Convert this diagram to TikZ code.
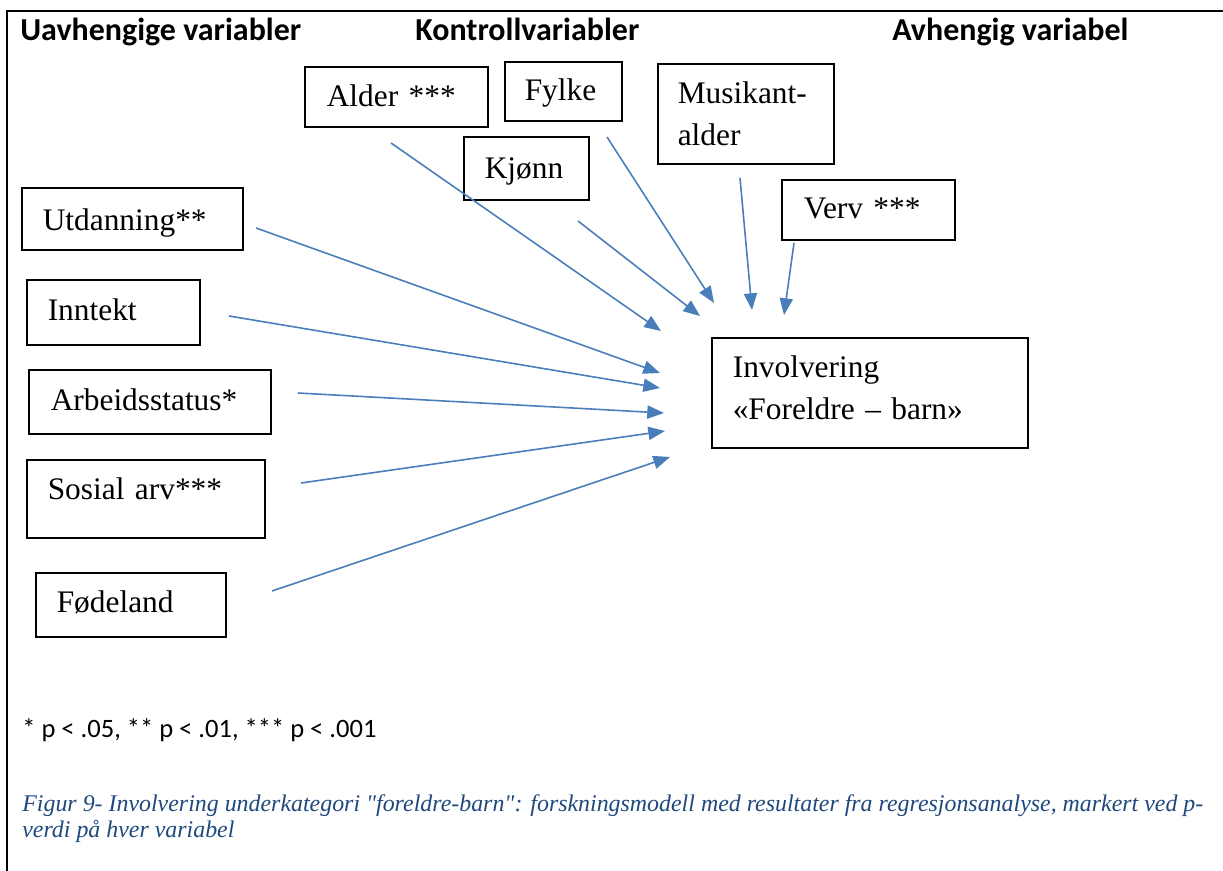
\documentclass[tikz,border=0pt]{standalone}
\usepackage{fontspec}
\setmainfont{Liberation Serif}
\newfontfamily\calibri{Carlito}
\newfontfamily\capfont[Ligatures=TeXOff]{Liberation Serif}
\usepackage{tikz}
\usetikzlibrary{arrows.meta}
\definecolor{arrblue}{RGB}{74,126,187}
\definecolor{capblue}{RGB}{31,73,125}
\newlength{\px}
\setlength{\px}{0.02cm}

\begin{document}
\begin{tikzpicture}[x=0.02cm,y=-0.02cm,>={Triangle[length=9.5pt,width=7.5pt]},
		var node/.style={draw,line width=0.9pt,anchor=north west,align=left,inner ysep=0pt,
			font=\fontsize{17.86}{23.8}\selectfont},
		head/.style={anchor=base west,inner sep=0pt,font=\calibri\bfseries\fontsize{18.2}{21}\selectfont},
		arr/.style={->,color=arrblue,line width=0.9pt}]
		\useasboundingbox (0,0) rectangle (1223,871);
		\draw[line width=1.4pt] (1223,11) -- (7,11) -- (7,871);
		\node[head] (uavh) at (20,41) {Uavhengige variabler};
		\node[head] (kontr) at (415,41) {Kontrollvariabler};
		\node[head] (avh) at (892,41) {Avhengig variabel};
		\node[var node,text width=139\px,inner xsep=22\px,text height=40\px,text depth=20\px] (alder) at (304,66) {Alder ***};
		\node[var node,text width=77\px,inner xsep=20\px,text height=39\px,text depth=20\px] (fylke) at (504,61) {Fylke};
		\node[var node,text width=83\px,inner xsep=21\px,text height=42\px,text depth=21\px] (kjonn) at (463,136) {Kjønn};
		\node[var node,text width=136\px,inner xsep=20\px,text height=40\px,text depth=60\px] (musik) at (657,63) {Musikant-\\alder};
		\node[var node,text width=129\px,inner xsep=22\px,text height=39\px,text depth=21\px] (verv) at (781,179) {Verv ***};
		\node[var node,text width=179\px,inner xsep=21\px,text height=43\px,text depth=19\px] (utd) at (21,187) {Utdanning**};
		\node[var node,text width=131\px,inner xsep=21\px,text height=41\px,text depth=24\px] (inntekt) at (26,279) {Inntekt};
		\node[var node,text width=198\px,inner xsep=22\px,text height=41\px,text depth=23\px] (arb) at (28,369) {Arbeidsstatus*};
		\node[var node,text width=196\px,inner xsep=21\px,text height=40\px,text depth=38\px] (sosial) at (26,459) {Sosial arv***};
		\node[var node,text width=148\px,inner xsep=21\px,text height=40\px,text depth=24\px] (fodeland) at (35,572) {Fødeland};
		\node[var node,text width=274\px,inner xsep=21\px,text height=40\px,text depth=70\px] (invol) at (711,337) {Involvering\\«Foreldre – barn»};
		\coordinate (alder-s) at (391,143);  \coordinate (alder-e) at (661,331);
		\coordinate (kjonn-s) at (578,221);  \coordinate (kjonn-e) at (700,316);
		\coordinate (fylke-s) at (607,137);  \coordinate (fylke-e) at (714,303);
		\coordinate (musik-s) at (740,178);  \coordinate (musik-e) at (752,310);
		\coordinate (verv-s) at (794,243);   \coordinate (verv-e) at (784,315);
		\coordinate (utd-s) at (256,228);    \coordinate (utd-e) at (660,373);
		\coordinate (inntekt-s) at (229,316); \coordinate (inntekt-e) at (660,388);
		\coordinate (arb-s) at (298,393);    \coordinate (arb-e) at (664,413);
		\coordinate (sosial-s) at (301,483); \coordinate (sosial-e) at (665,431);
		\coordinate (fodeland-s) at (272,591); \coordinate (fodeland-e) at (670,457);
		\foreach \v in {alder,kjonn,fylke,musik,verv,utd,inntekt,arb,sosial,fodeland}
		\draw[arr] (\v-s) -- (\v-e);
		\node[anchor=base west,inner sep=0pt,font=\calibri\fontsize{15.1}{18}\selectfont] (pval) at (22,737)
		{* p < .05, ** p < .01, *** p < .001};
		\node[anchor=base west,inner sep=0pt,align=left,text=capblue,font=\capfont\itshape\fontsize{13.6}{14.7}\selectfont] (caption) at (22,837)
		{Figur 9- Involvering underkategori "foreldre-barn": forskningsmodell med resultater fra regresjonsanalyse, markert ved p-\\verdi på hver variabel};
\end{tikzpicture}
\end{document}
